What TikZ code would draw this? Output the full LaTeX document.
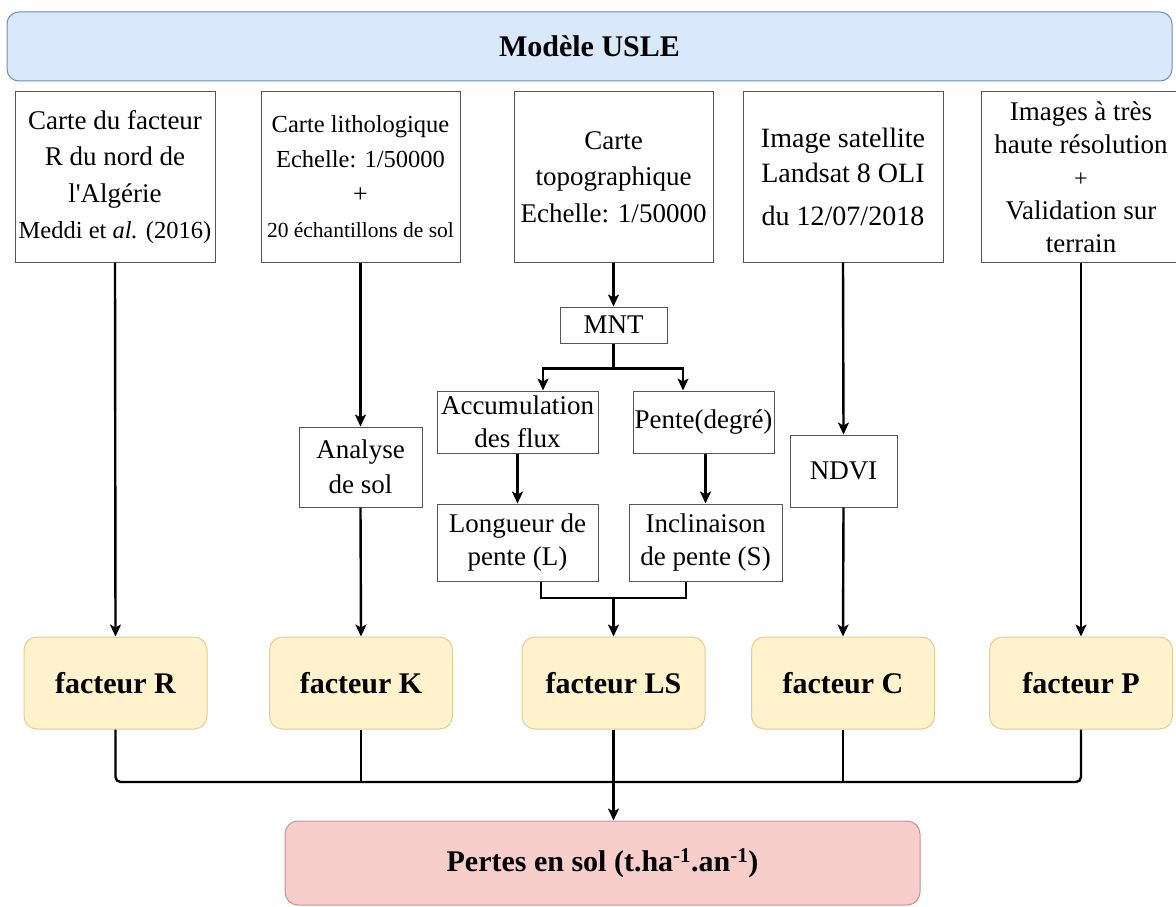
\documentclass[tikz,border=0pt]{standalone}
\usepackage{fontspec}
\setmainfont{Liberation Serif}[Ligatures=TeXOff]
\usetikzlibrary{arrows.meta}
\newcommand\fsz[2]{\fontsize{#1}{#2}\selectfont}
\definecolor{blueF}{HTML}{DAE8FC}
\definecolor{blueD}{HTML}{6C8EBF}
\definecolor{yelF}{HTML}{FFF2CC}
\definecolor{yelD}{HTML}{E3CC8F}
\definecolor{redF}{HTML}{F8CECC}
\definecolor{redD}{HTML}{C9928F}
\definecolor{boxD}{HTML}{555555}
\begin{document}
\begin{tikzpicture}[x=1pt,y=-1pt,
  topbar/.style={draw=blueD,fill=blueF,line width=1pt,rounded corners=12pt,minimum width=1165pt,minimum height=69pt,inner sep=0pt,font=\fsz{30}{36}\bfseries},
  srcbox/.style={draw=boxD,line width=1pt,minimum width=200pt,minimum height=170pt,inner sep=0pt,align=center,font=\fsz{27}{36.5}},
  midbox/.style={draw=boxD,line width=1pt,inner sep=0pt,align=center,font=\fsz{27}{33}},
  facbox/.style={draw=yelD,fill=yelF,line width=1pt,rounded corners=13pt,minimum width=183pt,minimum height=92pt,inner sep=0pt,font=\fsz{30}{36}\bfseries},
  resbox/.style={draw=redD,fill=redF,line width=1pt,rounded corners=13pt,minimum width=635pt,minimum height=84pt,inner sep=0pt,font=\fsz{30}{36}\bfseries},
  conn/.style={line width=2.4pt,black},
  arr/.style={conn,-{Stealth[length=12pt,width=11pt,inset=3pt]}}
]
\useasboundingbox (0,0) rectangle (1176,907);
\clip (0,0) rectangle (1176,907);

\node[topbar] (usle) at (589.5,46.5) {Modèle USLE};

\node[srcbox] (b1) at (115,177) {Carte du facteur\\R du nord de\\l'Algérie\\{\fsz{24.5}{30}Meddi et \textit{al.} (2016)}};
\node[srcbox,minimum width=199pt,font=\fsz{24.5}{35}] (b2) at (360.5,177) {Carte lithologique\\Echelle: 1/50000\\{\fsz{26}{35}+}\\{\fsz{21.5}{30}20 échantillons de sol}};
\node[srcbox,minimum width=199pt] (b3) at (613.5,177) {Carte\\topographique\\Echelle: 1/50000};
\node[srcbox,font=\fsz{28}{35}] (b4) at (843,177) {Image satellite\\Landsat 8 OLI\\[8pt]du 12/07/2018};
\node[srcbox,font=\fsz{27}{33}] (b5) at (1081,177) {Images à très\\haute résolution\\{\fsz{24}{33}+}\\Validation sur\\terrain};

\node[midbox,minimum width=107pt,minimum height=36pt] (mnt) at (613.5,325) {MNT};
\node[midbox,minimum width=161pt,minimum height=62pt] (acc) at (517.5,422) {Accumulation\\des flux};
\node[midbox,minimum width=141pt,minimum height=62pt] (pente) at (703.5,422) {Pente(degré)};
\node[midbox,minimum width=161pt,minimum height=77pt] (long) at (517.5,542.5) {Longueur de\\pente (L)};
\node[midbox,minimum width=153pt,minimum height=77pt] (incl) at (705.5,542.5) {Inclinaison\\de pente (S)};
\node[midbox,minimum width=123pt,minimum height=80pt,font=\fsz{27}{35}] (ana) at (360.5,467) {Analyse\\de sol};
\node[midbox,minimum width=107pt,minimum height=72pt] (ndvi) at (843.5,471) {NDVI};

\node[facbox] (fR) at (115.5,683) {facteur R};
\node[facbox] (fK) at (361,683) {facteur K};
\node[facbox] (fLS) at (613.5,683) {facteur LS};
\node[facbox] (fC) at (843,683) {facteur C};
\node[facbox] (fP) at (1081,683) {facteur P};

\node[resbox] (res) at (602.5,863) {Pertes en sol (t.ha\textsuperscript{-1}.an\textsuperscript{-1})};

% connectors
\draw[arr] (b1.south) -- (fR.north);
\draw[arr] (b2.south) -- (ana.north);
\draw[arr] (ana.south) -- (fK.north);
\draw[arr] (b3.south) -- (mnt.north);
\draw[arr] (mnt.south) -- ++(0,25) -| ([xshift=25.5pt]acc.north);
\draw[arr] (mnt.south) -- ++(0,25) -| ([xshift=-20.5pt]pente.north);
\draw[arr] (acc.south) -- (long.north);
\draw[arr] (incl.north |- pente.south) -- (incl.north);
\coordinate (lsj) at (613.5,598);
\draw[conn] ([xshift=23.5pt]long.south) |- (lsj) -| ([xshift=-19.5pt]incl.south);
\draw[arr] (lsj) -- (fLS.north);
\draw[arr] (b4.south) -- (ndvi.north);
\draw[arr] (ndvi.south) -- (fC.north);
\draw[arr] (b5.south) -- (fP.north);

\coordinate (bus) at (613.5,782);
\draw[conn,rounded corners=5pt] (fR.south) |- (bus) -| (fP.south);
\draw[conn] (fK.south) -- (fK.south |- bus);
\draw[conn] (fC.south) -- (fC.south |- bus);
\draw[arr] (fLS.south) -- (fLS.south |- res.north);
\end{tikzpicture}
\end{document}
